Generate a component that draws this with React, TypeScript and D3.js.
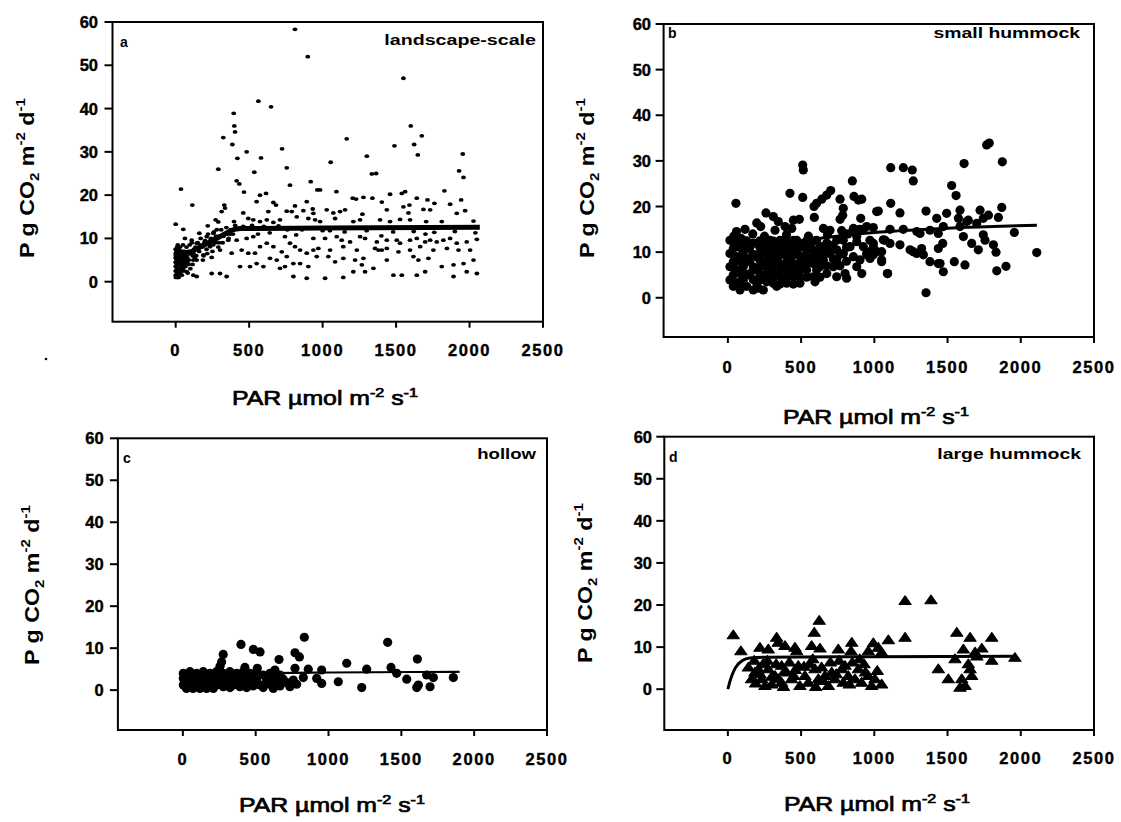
import React, { useLayoutEffect, useRef, useState } from "react";
import * as d3 from "d3";

// ---------- DATA (PAR µmol m-2 s-1, P g CO2 m-2 d-1) ----------
const landscapePoints: [number, number][] = [
  [812,58.3],[899,52],[1550,47],[563,41.7],[649,40.4],[395,38.9],[399,36],[404,34.6],[1600,36],[1675,33.7],
  [1164,33],[324,33.3],[386,31.7],[1623,31.7],[1489,31.4],[724,30.7],[483,30],[1648,29.3],[1301,29],[581,28.6],
  [420,28.5],[1954,29.5],[1055,27.6],[290,26],[756,26.3],[1929,25.6],[535,25.3],[1959,24.1],[1335,24.9],[1364,25],
  [415,23.3],[433,22.6],[465,20.7],[778,22.3],[919,23.1],[36,21.4],[964,21.2],[983,21.2],[1094,20.8],[1829,21],
  [574,20],[615,20.4],[551,18.5],[1459,20.2],[1539,20.4],[1562,20.8],[1205,19.3],[1228,19.1],[1278,19.5],[1339,19.3],
  [1943,18.9],[1641,19.3],[1714,18.9],[113,17.7],[331,17.7],[336,17],[665,18.3],[683,17.7],[812,17.5],[892,18.5],
  [1868,17.9],[1761,18.1],[1591,17.7],[1550,17.3],[1403,18.4],[313,16.2],[460,15.9],[631,16.2],[756,16.3],[790,16.2],
  [824,15],[869,16.4],[903,14.6],[937,15.8],[933,16.8],[1028,16.6],[1073,15.9],[1119,16.2],[1153,16.6],[1271,15.6],
  [1437,16.6],[1584,15.9],[1686,16.7],[1732,16.6],[1913,15.8],[1970,16.4],[0,13.3],[52,12.1],[272,14.3],[290,13.8],
  [218,12.9],[397,13.9],[494,14.6],[528,14.3],[574,13.9],[620,14.3],[665,13.7],[710,14.3],[949,14.3],[983,13.9],
  [1085,14.6],[1209,13.9],[1255,14.3],[1391,14.3],[1459,13.9],[1527,14.4],[1595,14.3],[1705,13.9],[1811,13.9],[2027,14],
  [161,11.2],[211,10.4],[256,11.2],[109,9.6],[143,8.9],[63,10],[358,9.6],[415,9.6],[483,10],[528,10.4],
  [574,8.1],[620,8.9],[665,8.1],[744,10.4],[778,8.9],[812,8.1],[847,7.3],[892,6.6],[937,7.3],[722,6.9],
  [756,5.8],[449,7.3],[494,6.6],[540,6.6],[381,6.6],[302,7.3],[234,8.1],[188,6.2],[245,5.6],[120,6.6],
  [143,5],[551,4.2],[597,3.5],[642,5.4],[688,5],[438,3.5],[506,3.5],[710,3.1],[744,3.5],[801,4.2],
  [847,4.2],[903,3.5],[801,1.2],[892,0.8],[302,1.9],[347,1.2],[245,1.9],[120,1.5],[143,1.2],[75,2.3],
  [29,3.1],[937,10],[1017,10],[1096,10.4],[1130,9.6],[1187,9.2],[1255,10.4],[1289,10],[1369,9.2],[1437,9.6],
  [1505,9.6],[1527,8.9],[1595,9.6],[1641,10],[1698,9.2],[1732,9.6],[1777,9.2],[1822,9.6],[1868,10],[1913,8.9],
  [1981,9.2],[2050,9.8],[971,7.7],[1051,7.3],[1141,8.1],[1233,7.3],[1357,7.7],[1403,7.3],[1516,6.9],[1595,7.3],
  [1664,8.1],[1754,7.3],[1846,7.7],[1925,7.3],[2004,7.3],[1085,4.6],[1141,5.4],[1221,5],[1278,5.4],[1380,7.3],
  [1437,7.7],[1618,5.8],[1652,5],[1720,5.4],[1811,3.5],[1891,3.9],[1959,4.2],[2027,5],[1017,0.8],[1141,1],
  [1289,2.3],[1482,1.5],[1539,1.5],[1641,1.5],[1698,2.3],[1891,1.2],[1981,2.3],[2050,1.9],[1209,2.3],[1346,3.1],
  [1267,3.9],[1039,5.8],[960,5.8],[1437,5],
  [2,1],[5,2.5],[8,4],[3,5.5],[6,7],[10,8],[12,6],[15,3],[18,5],[20,7.5],[4,3.5],[9,1.5],[14,8.5],[22,2],
  [25,4.5],[28,6.5],[30,8],[33,3],[36,5],[40,7],[42,1.5],[45,4],[48,6],[50,8.5],[55,2.5],[58,5.5],[62,7],
  [66,3.5],[70,6],[74,8],[78,4.5],[82,2],[86,7],[90,5],[95,8.5],[100,3],[105,6.5],[110,9],[115,4],[125,7.5],
  [130,5.5],[135,8],[140,6],[150,9],[160,7],[170,10],[180,8],[190,6],[200,9.5],[210,7.5],[220,11],[230,8.5],
  [240,10],[250,7],[260,11.5],[270,9],[280,12],[290,8],[300,10.5],[310,12],[320,9],[330,11],[345,12.5],[360,10],
  [375,12],[390,11],[405,13],[1,6],[7,5],[16,6.5],[27,5.5],[38,6],[52,4.5],[64,5],[88,4],[120,5],
  [0,1.5],[0,2.5],[0,3.5],[0,4.5],[0,5.5],[0,6.5],[0,7.5],[10,1],[10,2],[10,3],[10,4],[10,5],[10,6],[10,7],
  [20,1],[20,2],[20,3],[20,4],[20,5],[20,6],[20,7],[30,2],[30,3],[30,4],[30,5],[30,6],[30,7],[40,2.5],
  [40,3.5],[40,4.5],[40,5.5],[40,6.5],[50,3],[50,5],[50,7],[60,4],[60,6],[80,5.5],[100,7],[115,6],[165,8.5],
  [185,5],[195,9],[215,6.5],[235,9.5],[255,8.5],[275,10.5],[295,9],[325,10.5],[350,11],[370,11],[395,12],
  [460,12.8],[520,13],[600,12.8],[700,12.9],[760,12],[860,12],[1000,11.8],[1150,11.5],[1300,11.8],[1480,11.5],
  [1620,11.6],[1760,11.4],[1900,11.6],[2040,11.3],[560,11],[640,11.3],[820,10.8],[1050,11.8],[1400,10.6],[1700,11]
];
const smallHummockPoints: [number, number][] = [
  [55,20.7],[511,29.1],[515,28],[424,22.9],[511,22],[850,25.6],[702,23.5],[675,22.5],[641,21.6],[606,20.7],
  [588,20],[766,21.6],[861,22.2],[891,21.4],[914,21.6],[788,19.6],[784,18.1],[766,17.2],[590,17.6],[1016,18.9],
  [260,18.6],[310,17.8],[344,16.7],[197,16.4],[224,15.6],[447,17],[488,17.2],[907,17.4],[948,15.6],[59,14.5],
  [117,15],[322,14.8],[390,15.6],[436,15.2],[652,15.2],[697,14.8],[777,14.7],[857,15.2],[925,15],[993,15.4],
  [14,12.6],[14,9.7],[14,6.8],[14,3.9],[60,11.9],[60,9.0],[60,6.1],[60,3.2],[105,12.6],[105,9.7],[105,6.8],[105,3.9],
  [83,1.7],[173,1.7],[151,11.2],[151,8.3],[151,5.3],[197,11.9],[197,9.0],[197,6.1],[197,3.2],[242,10.5],[242,7.5],
  [242,4.6],[242,1.7],[288,12.6],[288,9.7],[288,6.8],[288,3.9],[333,11.2],[333,8.3],[333,5.3],[333,2.5],[378,12.6],
  [378,9.7],[378,6.8],[378,3.9],[424,11.2],[424,8.3],[424,5.3],[470,12.6],[470,9.7],[470,6.8],[492,3.2],[515,11.9],
  [515,9.0],[538,6.1],[561,11.2],[561,8.3],[583,4.6],[606,12.6],[606,9.7],[606,6.1],[652,11.2],[652,8.3],[675,5.3],
  [697,9.7],[743,12.6],[743,10.5],[743,8.3],[720,6.8],[788,12.6],[788,9.7],[800,5.3],[834,11.2],[857,9.0],[880,13.4],
  [880,6.8],[902,8.3],[914,5.3],[948,9.7],[970,12.6],[993,11.2],[1016,10.1],[37,10.8],[37,7.9],[37,5.0],[128,10.8],
  [128,7.9],[128,5.0],[128,2.5],[219,9.7],[219,6.8],[219,3.9],[265,11.2],[265,8.3],[265,5.3],[310,9.0],[310,6.1],
  [310,3.2],[356,11.2],[356,7.5],[356,4.6],[401,9.0],[401,6.1],[401,3.2],[447,11.2],[447,7.5],[447,4.6],[492,9.0],
  [492,6.1],[538,10.5],[538,7.5],[583,9.0],[629,6.8],[629,11.2],[83,2.1],[208,2.1],[595,3.5],[743,4.6],[811,4.3],
  [1091,5.3],[1050,8.3],[948,9.4],[1289,9.7],[1335,9.4],[1449,7.5],[1073,12.6],[1175,11.6],[1244,10.5],[880,12.3],
  [925,11.2],[1767,33.5],[1785,33.9],[1874,29.8],[1613,29.4],[1112,28.5],[1198,28.5],[1259,28],[1266,25.6],[1528,24.6],
  [1558,22.4],[1112,20.7],[1027,19],[1175,18.6],[1353,19],[1585,19.2],[1722,19.2],[1870,19.8],[1426,17.4],[1494,18.5],
  [1574,17.4],[1642,17],[1744,17.4],[1847,17.6],[1779,18.1],[1956,14.3],[2109,9.9],[1107,15],[1198,15],[1290,14.5],
  [1380,14.8],[1471,15.6],[993,11.9],[1061,12.7],[1107,11.9],[993,9.4],[1050,10.1],[1050,7.9],[1266,10.1],[1323,10.8],
  [1437,10.8],[1467,11.9],[1380,7.9],[1437,7.5],[1471,5.7],[1546,7.9],[1619,7.2],[1089,5.3],[1608,13.4],[1665,11.9],
  [1710,10.5],[1744,13.8],[1756,12.6],[1813,11.6],[1831,10.0],[1836,5.9],[1899,6.9],[1353,1.1],[971,10.1],[971,8.6],
  [1312,14.1],[1437,14.1],[1585,15.6],[1631,16.7],[1699,16.3],
  [40,13.5],[90,13],[170,14],[250,13.5],[400,13.8],[550,13.5],[680,13.8],[820,14],[900,15],[60,8],[170,9.5],[300,11],[450,10],[700,11.5],
  [37,12.2],[37,2.5],[83,11],[83,8.3],[83,5.3],[83,3.5],[128,12.5],[173,12],[173,9.5],[173,6.8],[173,4],[219,12.5],
  [219,11],[219,8.2],[219,5.2],[265,12.6],[265,9.7],[265,6.8],[265,3.5],[310,12.4],[310,10.5],[310,7.5],[310,4.6],
  [356,12.6],[356,9.4],[356,6],[356,3],[401,12.4],[401,10.5],[401,7.5],[401,4.6],[447,12.6],[447,9.4],[447,6],[447,3],
  [492,11],[492,7.5],[492,4.6],[538,12.5],[538,9],[538,4.5],[583,12.4],[583,10.5],[583,7.5],[629,9.5],[629,8.2],
  [629,4.5],[675,12],[675,9.8],[675,7],[720,11],[720,8.5],[765,9.5],[765,7],[810,11],[810,8]
];
const hollowPoints: [number, number][] = [
  [834,12.6],[1406,11.4],[399,10.9],[484,9.7],[530,9.1],[770,8.9],[800,7.9],[277,8.5],[266,6.7],[255,5.7],
  [660,7.3],[1610,7.4],[1125,6.4],[1262,5.0],[1429,5.4],[426,5.4],[511,5.2],[632,4.8],[770,5.2],[861,5.0],
  [953,4.8],[1468,4.0],[1537,2.6],[1617,1.2],[1697,0.8],[1720,3.0],[1857,3.0],[1606,0.6],[1067,2.0],[1228,0.6],
  [919,2.8],[953,1.6],[827,3.0],[1674,3.6],
  [3,4.0],[3,2.8],[3,1.2],[25,3.5],[25,2.0],[25,0.4],[49,4.4],[49,2.8],[49,1.2],[70,3.5],[70,2.0],[70,0.4],
  [94,4.0],[94,2.8],[94,1.2],[117,3.5],[117,2.0],[117,0.4],[140,4.4],[140,2.8],[140,1.2],[163,3.5],[163,2.0],
  [163,0.4],[186,4.0],[186,2.8],[186,1.2],[209,3.5],[209,2.0],[209,0.4],[231,4.4],[231,2.8],[231,1.2],[254,3.5],
  [254,2.0],[277,4.0],[277,2.8],[277,0.8],[300,3.5],[300,1.6],[323,4.4],[323,2.4],[323,0.6],[346,3.5],[346,1.2],
  [369,4.0],[369,2.4],[392,3.2],[392,0.8],[415,4.4],[415,2.0],[438,3.0],[438,0.6],[460,4.0],[460,2.0],[483,3.2],
  [483,1.0],[506,4.4],[506,2.4],[530,1.2],[552,3.6],[552,0.6],[575,2.4],[598,4.0],[598,1.4],[621,3.0],[621,0.4],
  [644,2.2],[667,3.6],[667,1.0],[689,2.6],[712,1.8],[735,0.8],[758,2.4],[781,1.4]
];
const largeHummockPoints: [number, number][] = [
  [1210,20.8],[1387,21.0],[624,16.1],[590,13.3],[37,12.7],[1210,12.1],[1096,11.5],[1563,13.3],[1654,12.1],[1802,12.1],
  [333,12.1],[344,10.9],[390,10.1],[219,9.7],[276,9.3],[458,9.7],[470,8.9],[572,10.1],[629,9.5],[754,9.3],
  [846,10.9],[841,8.9],[959,8.9],[993,10.8],[1027,9.7],[1050,8.6],[89,8.9],[1608,9.3],[1734,9.5],[1688,8.6],
  [1551,7.0],[1642,5.8],[1802,6.6],[1437,4.6],[1505,2.2],[1597,2.2],[1620,0.6],[1665,3.0],[1654,4.6],[1585,0.2],
  [140,5.0],[208,4.6],[162,2.2],[231,2.2],[253,0.6],[322,3.0],[367,5.4],[367,1.4],[401,3.8],[435,2.2],
  [481,5.4],[492,0.6],[526,3.0],[549,1.4],[595,4.6],[618,2.2],[663,3.0],[686,0.6],[709,3.8],[731,2.2],
  [777,4.6],[788,1.4],[822,3.0],[868,2.2],[891,4.6],[913,1.4],[959,3.0],[982,0.6],[1004,2.2],[185,3.8],
  [276,4.6],[299,1.0],[345,2.2],[390,4.2],[420,6.2],[450,3.0],[240,5.8],[190,1.2],[330,5.8],[270,6.6],
  [560,5.8],[640,5.0],[700,6.2],[760,6.6],[800,5.4],[850,6.2],[930,5.8],[1020,4.2],[1050,1.0],[600,0.4],
  [180,6.6],[220,3.4],[300,2.8],[380,0.4],[460,4.4],[520,5.2],[580,7.0],[650,1.8],[740,3.4],[830,1.0],
  [900,7.0],[940,3.8],[1960,7.3],[1700,7.6]
];

// fitted curves
const landscapeFit: [number, number][] = [[0,5],[100,6.8],[200,8.6],[300,10.4],[400,12.1],[450,12.3],[1000,12.4],[2070,12.6]];
const smallHummockFit: [number, number][] = [[30,6.5],[100,8.5],[200,10],[400,11.8],[600,12.9],[800,13.7],[1000,14.3],[1300,14.9],[1600,15.4],[2110,15.9]];
const hollowFit: [number, number][] = [[20,1.5],[100,2.8],[250,3.6],[500,4.0],[1000,4.2],[1900,4.35]];
const largeHummockFit: [number, number][] = [[0,0],[20,2.5],[50,5],[100,6.8],[150,7.4],[250,7.6],[1000,7.7],[1970,7.8]];

const xTicks = [0, 500, 1000, 1500, 2000, 2500];
const yTicks = [0, 10, 20, 30, 40, 50, 60];
const panelLetters = ["a", "b", "c", "d"];
const panelNames = ["landscape-scale", "small hummock", "hollow", "large hummock"];

// ---------- LAYOUT ----------
type Panel = {
  box: { l: number; r: number; t: number; b: number };
  xDom: [number, number]; yDom: [number, number];
  pts: [number, number][]; fit: [number, number][];
  marker: "dot" | "ring" | "tri"; fitW: number;
  yLabRight: number; xLabY: number; xTitle: { cx: number; y: number };
  yTitle: { x: number; cy: number };
  letter: { x: number; y: number }; name: { r: number; y: number; w: number };
};

const panels: Panel[] = [
  { box: { l: 112.5, r: 543, t: 22, b: 321.7 }, xDom: [-430, 2500], yDom: [-9.24, 60],
    pts: landscapePoints, fit: landscapeFit, marker: "dot", fitW: 5,
    yLabRight: 98, xLabY: 356, xTitle: { cx: 325, y: 405 }, yTitle: { x: 34, cy: 178 },
    letter: { x: 120, y: 47 }, name: { r: 536, y: 45, w: 152 } },
  { box: { l: 663.6, r: 1094, t: 24, b: 337 }, xDom: [-439, 2500], yDom: [-8.6, 60],
    pts: smallHummockPoints, fit: smallHummockFit, marker: "ring", fitW: 3,
    yLabRight: 651, xLabY: 373, xTitle: { cx: 876, y: 424 }, yTitle: { x: 594, cy: 178 },
    letter: { x: 668, y: 38 }, name: { r: 1080, y: 38, w: 147 } },
  { box: { l: 117.9, r: 547, t: 438.3, b: 730 }, xDom: [-446, 2500], yDom: [-9.5, 60],
    pts: hollowPoints, fit: hollowFit, marker: "ring", fitW: 2.2,
    yLabRight: 103.6, xLabY: 765, xTitle: { cx: 332, y: 812 }, yTitle: { x: 39, cy: 585 },
    letter: { x: 123, y: 463 }, name: { r: 536, y: 459, w: 59 } },
  { box: { l: 664.3, r: 1094, t: 436.7, b: 730 }, xDom: [-434, 2500], yDom: [-9.7, 60],
    pts: largeHummockPoints, fit: largeHummockFit, marker: "tri", fitW: 3,
    yLabRight: 652, xLabY: 764, xTitle: { cx: 877, y: 811 }, yTitle: { x: 592, cy: 583 },
    letter: { x: 669, y: 462 }, name: { r: 1081, y: 459, w: 144 } },
];

const FONT = "'Liberation Sans', Arial, Helvetica, sans-serif";

function FitText(props: {
  x: number; y: number; width: number; anchor?: "start" | "middle" | "end";
  rotate?: number; fontSize: number; fontWeight?: string | number; stroke?: number; children: React.ReactNode;
}) {
  const ref = useRef<SVGTextElement>(null);
  const [s, setS] = useState(1);
  useLayoutEffect(() => {
    if (ref.current) {
      const w = ref.current.getBBox().width;
      if (w > 0) setS(props.width / w);
    }
  }, [props.width]);
  return (
    <g transform={`translate(${props.x},${props.y}) rotate(${props.rotate || 0}) scale(${s},1)`}>
      <text ref={ref} x={0} y={0} textAnchor={props.anchor || "start"} fontFamily={FONT}
        fontSize={props.fontSize} fontWeight={props.fontWeight ?? "normal"} fill="#000"
        stroke={props.stroke ? "#000" : "none"} strokeWidth={props.stroke || 0}>
        {props.children}
      </text>
    </g>
  );
}

function PanelView({ p, i }: { p: Panel; i: number }) {
  const x = d3.scaleLinear().domain(p.xDom).range([p.box.l, p.box.r]);
  const y = d3.scaleLinear().domain(p.yDom).range([p.box.b, p.box.t]);
  const line = d3.line<[number, number]>().x(d => x(d[0])).y(d => y(d[1])).curve(d3.curveMonotoneX);
  const tri = d3.symbol().type(d3.symbolTriangle).size(44)();
  return (
    <g>
      {p.pts.map((d, k) => {
        const cx = x(d[0]), cy = y(d[1]);
        if (p.marker === "dot") return <ellipse key={k} cx={cx} cy={cy} rx={2.4} ry={1.9} fill="#000" />;
        if (p.marker === "ring") return <circle key={k} cx={cx} cy={cy} r={4.6} fill="#000" />;
        return <path key={k} d={tri || ""} transform={`translate(${cx},${cy}) scale(1.2,1)`} fill="#000" stroke="#000" strokeWidth={1} strokeLinejoin="round" />;
      })}
      <path d={line(p.fit) || ""} fill="none" stroke="#000" strokeWidth={p.fitW} />
      <rect x={p.box.l} y={p.box.t} width={p.box.r - p.box.l} height={p.box.b - p.box.t}
        fill="none" stroke="#000" strokeWidth={2} />
      {yTicks.map(t => (
        <g key={t}>
          <line x1={p.box.l - 8} x2={p.box.l} y1={y(t)} y2={y(t)} stroke="#000" strokeWidth={2} />
          <text x={p.yLabRight} y={y(t) + 6} textAnchor="end" fontFamily={FONT} fontWeight="bold" fontSize={16.5}
            stroke="#000" strokeWidth={0.4}>{t}</text>
        </g>
      ))}
      {xTicks.map(t => (
        <g key={t}>
          <line x1={x(t)} x2={x(t)} y1={p.box.b} y2={p.box.b + 6} stroke="#000" strokeWidth={2} />
          <text x={x(t)} y={p.xLabY} textAnchor="middle" fontFamily={FONT} fontWeight="bold" fontSize={16.5}
            letterSpacing={1.6} stroke="#000" strokeWidth={0.4}>{t}</text>
        </g>
      ))}
      <text x={p.letter.x} y={p.letter.y} fontFamily={FONT} fontWeight="bold" fontSize={14}>{panelLetters[i]}</text>
      <FitText x={p.name.r} y={p.name.y} width={p.name.w} anchor="end" fontSize={14} fontWeight="bold">{panelNames[i]}</FitText>
      <FitText x={p.xTitle.cx} y={p.xTitle.y} width={186} anchor="middle" fontSize={20} stroke={0.7}>
        PAR µmol m<tspan dy={-8} fontSize={13}>-2</tspan><tspan dy={8}> s</tspan><tspan dy={-8} fontSize={13}>-1</tspan>
      </FitText>
      <FitText x={p.yTitle.x} y={p.yTitle.cy} width={160} anchor="middle" rotate={-90} fontSize={20} fontWeight="bold">
        P g CO<tspan dy={5} fontSize={13}>2</tspan><tspan dy={-5}> m</tspan><tspan dy={-9} fontSize={13}>-2</tspan><tspan dy={9}> d</tspan><tspan dy={-9} fontSize={13}>-1</tspan>
      </FitText>
    </g>
  );
}

export default function App() {
  return (
    <svg width={1121} height={822} style={{ position: "absolute", left: 0, top: 0, background: "#fff" }}>
      <rect width={1121} height={822} fill="#fff" />
      {panels.map((p, i) => <PanelView key={i} p={p} i={i} />)}
      <circle cx={46} cy={359} r={1.3} fill="#000" />
    </svg>
  );
}
